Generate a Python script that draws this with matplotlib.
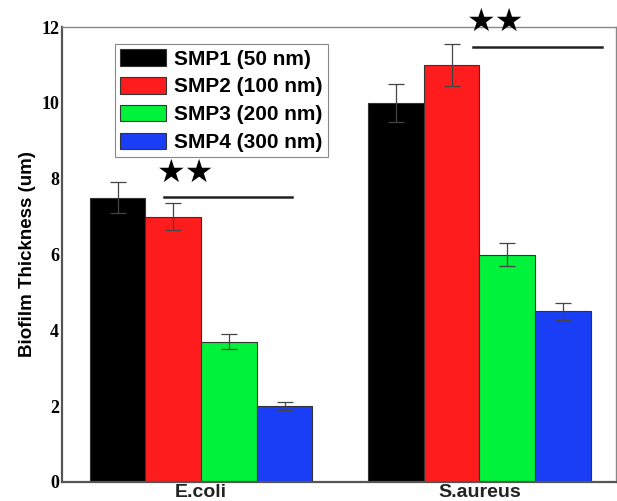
import numpy as np
import matplotlib
matplotlib.use("Agg")
import matplotlib.pyplot as plt

# data
groups = ["E.coli", "S.aureus"]
labels = ["SMP1 (50 nm)", "SMP2 (100 nm)", "SMP3 (200 nm)", "SMP4 (300 nm)"]
colors = ["#000000", "#ff1c1c", "#00f23a", "#1a3ef5"]
ecoli = [7.5, 7.0, 3.7, 2.0]
ecoli_err = [0.4, 0.35, 0.2, 0.1]
saureus = [10.0, 11.0, 6.0, 4.5]
saureus_err = [0.5, 0.55, 0.3, 0.22]
sig_line_y = [7.52, 11.48]
sig_star_y = [8.15, 12.13]

fig = plt.figure(figsize=(6.17, 5.01), dpi=100)
ax = fig.add_axes([0.1005, 0.038, 0.8975, 0.908])

x = np.arange(len(groups))
w = 0.2
for i in range(4):
    vals = [ecoli[i], saureus[i]]
    errs = [ecoli_err[i], saureus_err[i]]
    pos = x + (i - 1.5) * w
    ax.bar(pos, vals, width=w, color=colors[i], edgecolor="#333333",
           linewidth=0.8, label=labels[i], zorder=2)
    ax.errorbar(pos, vals, yerr=errs, fmt="none", ecolor="#444444",
                elinewidth=0.9, capsize=6, capthick=0.9, zorder=3)

# significance marks
line_x = [(-0.133, 0.326), (-0.022, 0.441)]
star_x = [-0.057, 0.057]
for g in range(2):
    ax.plot([x[g] + line_x[g][0], x[g] + line_x[g][1]], [sig_line_y[g], sig_line_y[g]],
            color="#222222", linewidth=1.8, clip_on=False, zorder=4)
    ax.text(x[g] + star_x[g], sig_star_y[g], "\u2605\u2605", ha="center", va="center",
            fontsize=23, color="black", family="DejaVu Sans", clip_on=False)

ax.set_xlim(-0.5, 1.49)
ax.set_ylim(0, 12)
ax.set_yticks([0, 2, 4, 6, 8, 10, 12])
ax.set_yticklabels(["0", "2", "4", "6", "8", "10", "12"],
                   family="Liberation Serif", fontweight="bold", fontsize=13)
ax.set_xticks(x)
ax.set_xticklabels([])
ax.tick_params(axis="both", length=0, pad=2)
# group names sit just under the axis, baseline near the bottom edge
for g in range(2):
    ax.annotate(groups[g], xy=(x[g], 0), xytext=(0, -15), textcoords="offset pixels",
                ha="center", va="baseline", family="Liberation Sans",
                fontweight="bold", fontsize=14, color="#222222", annotation_clip=False)
ax.set_ylabel("Biofilm Thickness (um)", family="Liberation Sans",
              fontweight="bold", fontsize=13.5, labelpad=4)

for s in ["left", "bottom"]:
    ax.spines[s].set_color("#555555")
    ax.spines[s].set_linewidth(1.6)
for s in ["top", "right"]:
    ax.spines[s].set_color("#888888")
    ax.spines[s].set_linewidth(1.0)

leg = ax.legend(loc="upper left", bbox_to_anchor=(0.0957, 0.963),
                prop={"family": "Liberation Sans", "weight": "bold", "size": 15},
                fancybox=False, framealpha=1, edgecolor="#888888",
                handlelength=2.2, handleheight=0.85, labelspacing=0.4,
                handletextpad=0.4, borderpad=0.25, borderaxespad=0)
leg.get_frame().set_linewidth(0.8)

fig.savefig("out.png", dpi=100)
